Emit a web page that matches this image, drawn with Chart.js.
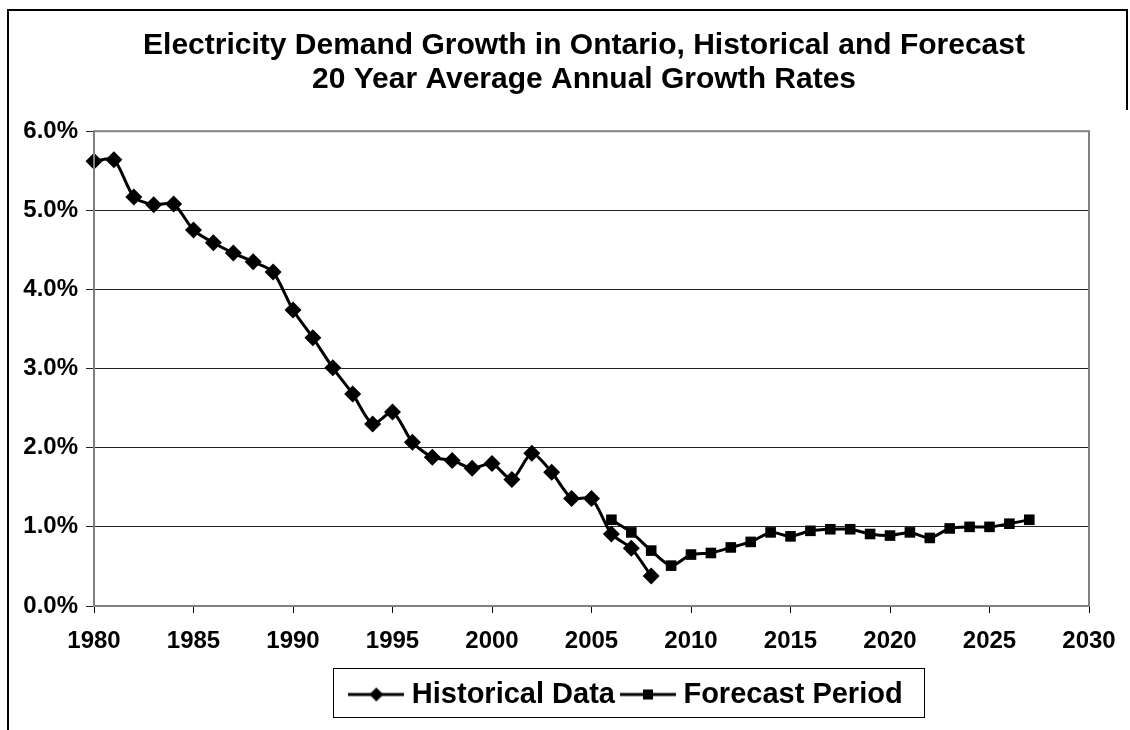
<!DOCTYPE html>
<html>
<head>
<meta charset="utf-8">
<script src="https://cdn.jsdelivr.net/npm/chart.js@4"></script>
<style>
  html, body { margin: 0; padding: 0; background: #fff; }
  #wrap { width: 1130px; height: 730px; }
</style>
</head>
<body>
<div id="wrap"><canvas id="growth-chart" width="1130" height="730"></canvas></div>
<script>
var histYears = [1980, 1981, 1982, 1983, 1984, 1985, 1986, 1987, 1988, 1989,
  1990, 1991, 1992, 1993, 1994, 1995, 1996, 1997, 1998, 1999,
  2000, 2001, 2002, 2003, 2004, 2005, 2006, 2007, 2008];
var histValues = [5.62, 5.64, 5.17, 5.07, 5.08, 4.75, 4.59, 4.46, 4.35, 4.22,
  3.74, 3.39, 3.01, 2.68, 2.30, 2.45, 2.07, 1.88, 1.84, 1.74,
  1.80, 1.60, 1.93, 1.69, 1.36, 1.36, 0.91, 0.73, 0.38];

var fcYears = [2006, 2007, 2008, 2009, 2010, 2011, 2012, 2013, 2014, 2015, 2016,
  2017, 2018, 2019, 2020, 2021, 2022, 2023, 2024, 2025, 2026, 2027];
var fcValues = [1.09, 0.93, 0.70, 0.51, 0.65, 0.67, 0.74, 0.81, 0.93, 0.88, 0.95,
  0.97, 0.97, 0.91, 0.89, 0.93, 0.86, 0.98, 1.00, 1.00, 1.04, 1.09];

var titleLines = ['Electricity Demand Growth in Ontario, Historical and Forecast',
  '20 Year Average Annual Growth Rates'];
var seriesNames = ['Historical Data', 'Forecast Period'];

var FONT = "'Liberation Sans', Arial, sans-serif";

function toPoints(xs, ys) {
  return xs.map(function (x, i) { return { x: x, y: ys[i] }; });
}

// little line + marker pictures for the legend
function legendIcon(kind) {
  var c = document.createElement('canvas');
  c.width = 56; c.height = 20;
  var g = c.getContext('2d');
  g.strokeStyle = '#000'; g.lineWidth = 3;
  g.beginPath(); g.moveTo(0, 10); g.lineTo(56, 10); g.stroke();
  g.fillStyle = '#000';
  g.beginPath();
  if (kind === 'diamond') {
    g.moveTo(28, 3); g.lineTo(35, 10); g.lineTo(28, 17); g.lineTo(21, 10);
  } else {
    g.rect(23, 5, 10, 10);
  }
  g.closePath(); g.fill();
  return c;
}
var icons = [legendIcon('diamond'), legendIcon('square')];

var framePlugin = {
  id: 'frame',
  afterLayout: function (chart) {
    // centre title and legend where the original has them
    var t = chart.titleBlock, lg = chart.legend;
    if (t) { var dt = 584 - (t.left + t.right) / 2; t.left += dt; t.right += dt; }
    if (lg) { var dl = 629 - (lg.left + lg.right) / 2; lg.left += dl; lg.right += dl; }
  },
  beforeDraw: function (chart) {
    var ctx = chart.ctx;
    ctx.save();
    ctx.strokeStyle = '#000';
    ctx.lineWidth = 2;
    ctx.beginPath();
    ctx.moveTo(8, 730); ctx.lineTo(8, 10); ctx.lineTo(1127, 10); ctx.lineTo(1127, 110);
    ctx.stroke();
    ctx.restore();
  },
  afterDraw: function (chart) {
    var ctx = chart.ctx, a = chart.chartArea, lg = chart.legend;
    ctx.save();
    ctx.strokeStyle = '#808080';
    ctx.lineWidth = 2;
    ctx.strokeRect(a.left, a.top, a.right - a.left, a.bottom - a.top);
    if (lg && lg.legendHitBoxes && lg.legendHitBoxes.length) {
      var hb = lg.legendHitBoxes;
      var x0 = hb[0].left - 22;
      var last = hb[hb.length - 1];
      var x1 = last.left + last.width + 22;
      ctx.strokeStyle = '#000';
      ctx.lineWidth = 1;
      ctx.strokeRect(Math.round(x0) + 0.5, Math.round(lg.top) + 0.5, Math.round(x1 - x0), 49);
    }
    ctx.restore();
  }
};

new Chart(document.getElementById('growth-chart').getContext('2d'), {
  type: 'line',
  data: {
    datasets: [
      {
        label: seriesNames[0],
        data: toPoints(histYears, histValues),
        borderColor: '#000',
        backgroundColor: '#000',
        borderWidth: 3,
        pointStyle: 'rectRot',
        pointRadius: 8.5,
        pointBackgroundColor: '#000',
        pointBorderWidth: 0,
        tension: 0.25,
        clip: false
      },
      {
        label: seriesNames[1],
        data: toPoints(fcYears, fcValues),
        borderColor: '#000',
        backgroundColor: '#000',
        borderWidth: 3,
        pointStyle: 'rect',
        pointRadius: 7.5,
        pointBackgroundColor: '#000',
        pointBorderWidth: 0,
        tension: 0.25,
        clip: false
      }
    ]
  },
  options: {
    responsive: false,
    animation: false,
    layout: { padding: { left: 10, right: 41, top: 10, bottom: 11 } },
    scales: {
      x: {
        type: 'linear',
        min: 1980,
        max: 2030,
        afterFit: function (s) { s.height = 62; },
        border: { display: true, color: '#808080', width: 2 },
        grid: { drawOnChartArea: false, drawTicks: true, tickLength: 7, color: '#000' },
        ticks: {
          stepSize: 5,
          padding: 14,
          color: '#000',
          font: { family: FONT, size: 24, weight: 'bold' },
          callback: function (v) { return String(v); }
        }
      },
      y: {
        min: 0,
        max: 6,
        afterFit: function (s) { s.width = 84; },
        border: { display: true, color: '#000', width: 1 },
        grid: { color: '#222', lineWidth: 1, tickLength: 8 },
        ticks: {
          stepSize: 1,
          padding: 8,
          color: '#000',
          font: { family: FONT, size: 24, weight: 'bold' },
          callback: function (v) { return v.toFixed(1) + '%'; }
        }
      }
    },
    plugins: {
      title: {
        display: true,
        text: titleLines,
        color: '#000',
        font: { family: FONT, size: 30, weight: 'bold', lineHeight: 1.12 },
        padding: { top: 19, bottom: 35 }
      },
      legend: {
        position: 'bottom',
        labels: {
          usePointStyle: true,
          pointStyleWidth: 42,
          padding: 12,
          color: '#000',
          font: { family: FONT, size: 29, weight: 'bold' },
          generateLabels: function (chart) {
            var items = Chart.defaults.plugins.legend.labels.generateLabels(chart);
            items.forEach(function (it, i) { it.pointStyle = icons[i]; });
            return items;
          }
        }
      },
      tooltip: { enabled: false }
    }
  },
  plugins: [framePlugin]
});
</script>
</body>
</html>
